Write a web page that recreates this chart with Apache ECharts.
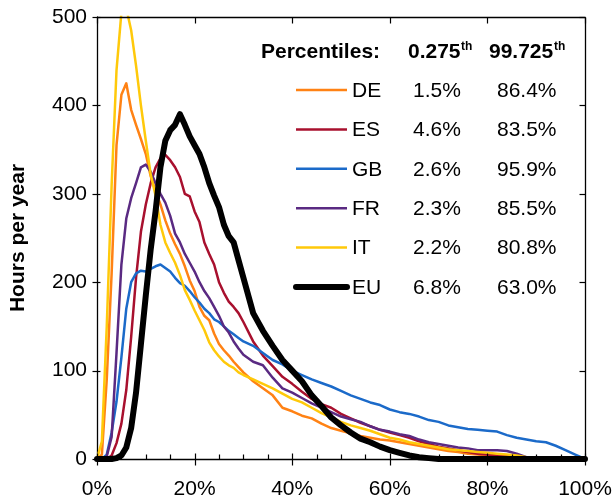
<!DOCTYPE html>
<html>
<head>
<meta charset="utf-8">
<script src="https://cdn.jsdelivr.net/npm/echarts@6/dist/echarts.min.js"></script>
<style>html,body{margin:0;padding:0;background:#fff;}#c{width:615px;height:500px;}</style>
</head>
<body>
<div id="c"></div>
<script>
// x positions (% of capacity factor bins)
const xs = [0,1,2,3,4,5,6,7,8,9,10,11,12,13,14,15,16,17,18,19,20,21,22,23,24,25,26,27,28,29,30,
  32,34,36,38,40,42,44,46,48,50,52,54,56,58,60,62,64,66,68,70,72,74,76,78,80,82,84,86,88,90,92,94,96,98,100];

const seriesNames = ['DE','ES','GB','FR','IT','EU'];

const deValues = [0,5,90,210,355,412,425,395,378,362,345,320,303,288,270,255,243,232,218,202,190,172,162,157,142,130,123,117,110,104,98,
  88,80,72,58,54,49,46,40,35,32,29,26,24,22,21,19,17,15,13,11,9,8,6,5,4,4,3,2,2,2,1,1,0,0,0];
const esValues = [0,0,0,4,18,40,78,138,205,257,288,312,330,340,344,338,330,319,300,297,280,268,245,232,220,200,188,178,172,165,155,
  133,117,105,93,85,76,68,62,58,51,46,41,37,33,30,27,24,20,17,14,12,10,8,6,5,4,3,2,1,0,0,0,0,0,0];
const gbValues = [0,0,5,30,65,115,170,200,210,213,212,215,218,220,216,212,205,199,196,190,183,177,170,165,158,155,150,145,141,137,133,
  128,120,112,107,100,95,90,86,82,77,72,68,64,61,56,53,51,48,44,42,38,36,34,33,32,31,27,24,22,20,19,15,10,5,0];
const frValues = [0,0,3,25,120,220,272,295,312,330,333,325,312,300,290,275,255,245,232,222,212,200,190,182,172,162,150,143,133,125,118,
  110,106,92,80,75,69,63,58,53,48,45,42,37,33,31,28,26,22,19,17,15,13,12,10,10,10,9,6,2,0,0,0,0,0,0];
const itValues = [0,20,150,310,440,505,510,485,445,400,360,322,298,265,245,233,222,208,191,180,168,157,146,132,123,116,110,106,103,98,95,
  90,85,80,74,68,64,58,52,47,42,38,35,32,28,24,22,19,17,15,13,11,10,9,8,7,6,5,4,2,1,0,0,0,0,0];
const euValues = [0,0,0,0,1,4,13,35,75,130,185,237,280,330,360,372,378,390,378,365,355,345,330,312,298,285,265,252,245,225,205,
  165,145,128,112,100,88,72,60,47,38,30,23,19,14,10,7,4,2,1,0,0,0,0,0,0,0,0,0,0,0,0,0,0,0,0];

const lowPercentile = ['1.5%','4.6%','2.6%','2.3%','2.2%','6.8%'];
const highPercentile = ['86.4%','83.5%','95.9%','85.5%','80.8%','63.0%'];
const xTickValues = [0,20,40,60,80,100];
const xTickLabels = ['0%','20%','40%','60%','80%','100%'];
const xMinorTickValues = [5,10,15,25,30,35,45,50,55,65,70,75,85,90,95];
const yTickValues = [0,100,200,300,400,500];
const yTickLabels = ['0','100','200','300','400','500'];

const allValues = [deValues, esValues, gbValues, frValues, itValues, euValues];
const colors = ['#FF8214','#A8102E','#1B6AC9','#5A2A82','#FFC90A','#000000'];
const widths = [2.5,2.5,2.5,2.5,2.5,6];
const FONT = '"Liberation Sans", Arial, Helvetica, sans-serif';

const GRID = { left: 97, right: 30, top: 17, bottom: 41 };
const W = 615, H = 500;

const chart = echarts.init(document.getElementById('c'));

const series = seriesNames.map((name, i) => ({
  name: name,
  type: 'line',
  symbol: 'none',
  showSymbol: false,
  clip: true,
  data: xs.map((x, k) => [x, allValues[i][k]]),
  lineStyle: { color: colors[i], width: widths[i], cap: 'round', join: 'round' },
  itemStyle: { color: colors[i] },
  z: 2 + i
}));

const option = {
  animation: false,
  backgroundColor: '#fff',
  grid: { left: GRID.left, right: GRID.right, top: GRID.top, bottom: GRID.bottom, containLabel: false, outerBoundsMode: 'none' },
  xAxis: {
    type: 'value', min: 0, max: 100, interval: 20, position: 'bottom',
    axisLine: { show: true, onZero: false, lineStyle: { color: '#000', width: 1.3 } },
    axisTick: { show: false }, minorTick: { show: false },
    axisLabel: { show: true, fontSize: 21, fontFamily: FONT, color: '#000', margin: 20,
      formatter: (v) => xTickLabels[xTickValues.indexOf(v)] },
    splitLine: { show: false }
  },
  yAxis: {
    type: 'value', min: 0, max: 500, interval: 100, position: 'left',
    name: 'Hours per year', nameLocation: 'middle', nameGap: 68, nameRotate: 90,
    nameTextStyle: { fontWeight: 'bold', fontSize: 21, fontFamily: FONT, color: '#000' },
    axisLine: { show: true, onZero: false, lineStyle: { color: '#000', width: 1.3 } },
    axisTick: { show: false },
    axisLabel: { show: true, fontSize: 21, fontFamily: FONT, color: '#000', margin: 10,
      formatter: (v) => yTickLabels[yTickValues.indexOf(v)] },
    splitLine: { show: false }
  },
  series: series
};
chart.setOption(option);

// legend table
const graphic = [];
graphic.push({ type: 'text', x: 261, y: 52, style: { text: 'Percentiles:', font: 'bold 21px ' + FONT, fill: '#000', align: 'left', verticalAlign: 'middle' } });
graphic.push({ type: 'text', x: 408, y: 52, style: { text: '0.275', font: 'bold 21px ' + FONT, fill: '#000', align: 'left', verticalAlign: 'middle' } });
graphic.push({ type: 'text', x: 461, y: 47, style: { text: 'th', font: 'bold 12px ' + FONT, fill: '#000', align: 'left', verticalAlign: 'middle' } });
graphic.push({ type: 'text', x: 489, y: 52, style: { text: '99.725', font: 'bold 21px ' + FONT, fill: '#000', align: 'left', verticalAlign: 'middle' } });
graphic.push({ type: 'text', x: 554, y: 47, style: { text: 'th', font: 'bold 12px ' + FONT, fill: '#000', align: 'left', verticalAlign: 'middle' } });
seriesNames.forEach((name, i) => {
  const yc = 91 + i * 39.4;
  graphic.push({ type: 'line', shape: { x1: 296, y1: yc - 1, x2: 347, y2: yc - 1 }, style: { stroke: colors[i], lineWidth: i === 5 ? 6 : 2.5, lineCap: i === 5 ? 'round' : 'butt' } });
  graphic.push({ type: 'text', x: 352, y: yc, style: { text: name, font: '21px ' + FONT, fill: '#000', align: 'left', verticalAlign: 'middle' } });
  graphic.push({ type: 'text', x: 413, y: yc, style: { text: lowPercentile[i], font: '21px ' + FONT, fill: '#000', align: 'left', verticalAlign: 'middle' } });
  graphic.push({ type: 'text', x: 497, y: yc, style: { text: highPercentile[i], font: '21px ' + FONT, fill: '#000', align: 'left', verticalAlign: 'middle' } });
});

// pixel position of a data point through the chart's own scale, with a fallback to the grid box
function px(x, y) {
  let p = null;
  try { p = chart.convertToPixel({ seriesIndex: 0 }, [x, y]); } catch (e) { p = null; }
  if (!p || !isFinite(p[0]) || !isFinite(p[1])) {
    const gw = W - GRID.left - GRID.right, gh = H - GRID.top - GRID.bottom;
    p = [GRID.left + gw * x / 100, GRID.top + gh * (1 - y / 500)];
  }
  return [Math.round(p[0]) + 0.5, Math.round(p[1]) + 0.5];
}
const bl = px(0, 0), tr = px(100, 500);
const x0 = bl[0], y0 = bl[1], x1 = tr[0], y1 = tr[1];
function seg(a, b, c, d, w) {
  return { type: 'line', z: 100, shape: { x1: a, y1: b, x2: c, y2: d },
    style: { stroke: '#000', lineWidth: w || 1.2, fill: null } };
}
// top and right frame
graphic.push(seg(x0, y1, x1, y1, 1.3));
graphic.push(seg(x1, y1, x1, y0, 1.3));
// x major ticks: crossing bottom axis, inward on top
xTickValues.forEach(v => {
  const x = px(v, 0)[0];
  graphic.push(seg(x, y0 + 6, x, y0 - 6));
  graphic.push(seg(x, y1, x, y1 + 6));
});
// x minor ticks: inward on bottom
xMinorTickValues.forEach(v => {
  const x = px(v, 0)[0];
  graphic.push(seg(x, y0, x, y0 - 5));
});
// y ticks: crossing left axis, inward on right
yTickValues.forEach(v => {
  const y = px(0, v)[1];
  graphic.push(seg(x0 - 5, y, x0 + 3, y));
  graphic.push(seg(x1, y, x1 - 6, y));
});

chart.setOption({ graphic: { elements: graphic } });
</script>
</body>
</html>
